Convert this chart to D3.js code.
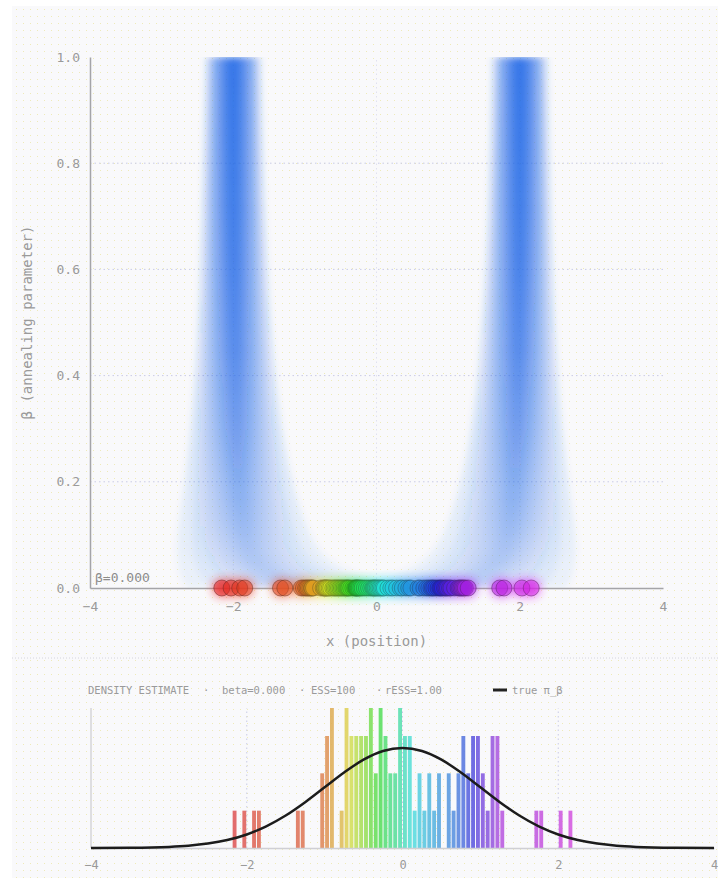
<!DOCTYPE html>
<meta charset="utf-8">
<style>
  body { margin: 0; background: #fff; }
  svg text { font-family: "DejaVu Sans Mono", monospace; fill: #9a9a9a; }
  .axis .domain { stroke: #a4a4a8; stroke-width: 1.5; }
  .axis text { font-size: 13px; fill: #9a9a9a; }
  .hist-axis .domain { stroke: #cfcfd4; stroke-width: 1.5; }
  .hist-axis text { font-size: 12px; }
  .grid line { stroke: #c9cbe6; stroke-width: 1; stroke-dasharray: 1.5,3; }
</style>
<body></body>
<script src="https://cdn.jsdelivr.net/npm/d3@7"></script>
<script>
// particle positions at beta = 0
var particles = [
  -2.16, -2.03, -1.91, -1.84, -1.34, -1.28,
  -1.05, -1.02, -0.99, -0.97, -0.95, -0.93, -0.91, -0.90, -0.88,
  -0.78, -0.745, -0.73, -0.72, -0.705, -0.695,
  -0.68, -0.66, -0.64, -0.61, -0.59, -0.57, -0.55, -0.53, -0.51,
  -0.49, -0.47, -0.45, -0.43, -0.415, -0.40, -0.385, -0.36, -0.33,
  -0.305, -0.29, -0.28, -0.27, -0.255, -0.24, -0.22, -0.20, -0.17, -0.14,
  -0.11, -0.08, -0.055, -0.04, -0.025, -0.01,
  0.01, 0.03, 0.05, 0.07, 0.09, 0.11, 0.16, 0.20, 0.23, 0.28, 0.33, 0.36,
  0.41, 0.45, 0.48, 0.58, 0.61, 0.66, 0.70, 0.73, 0.76, 0.78, 0.80,
  0.83, 0.86, 0.885, 0.90, 0.92, 0.95, 0.97, 0.99, 1.02, 1.04, 1.09,
  1.14, 1.16, 1.18, 1.20, 1.22, 1.24, 1.28,
  1.72, 1.78, 2.03, 2.16
];

// annealing path density bands (mirrored at +/- center)
var betaRows   = [0, 0.015, 0.03, 0.05, 0.08, 0.12, 0.2, 0.3, 0.45, 0.7, 1.0];
var bandCenter = [0.9, 1.35, 1.55, 1.72, 1.82, 1.88, 1.93, 1.96, 1.98, 2.0, 2.0];
var bandSpread = [0.75, 0.6, 0.52, 0.46, 0.42, 0.38, 0.32, 0.27, 0.22, 0.18, 0.16];
var bandInk    = [0.22, 0.2, 0.2, 0.22, 0.25, 0.3, 0.38, 0.5, 0.66, 0.85, 1.0];

// true pi_beta curve, in histogram count units
var truthX = [-4, -3.5, -3, -2.75, -2.5, -2.25, -2, -1.75, -1.5, -1.25, -1, -0.75, -0.5, -0.25, 0,
              0.25, 0.5, 0.75, 1, 1.25, 1.5, 1.75, 2, 2.25, 2.5, 2.75, 3, 3.5, 4];
var truthY = [0.001, 0.006, 0.030, 0.061, 0.118, 0.213, 0.363, 0.580, 0.870, 1.227, 1.626, 2.023, 2.366, 2.599, 2.68,
              2.599, 2.366, 2.023, 1.626, 1.227, 0.870, 0.580, 0.363, 0.213, 0.118, 0.061, 0.030, 0.006, 0.001];

var xTicks = [-4, -2, 0, 2, 4];
var yTicks = [0, 0.2, 0.4, 0.6, 0.8, 1.0];
var headerParts = ["DENSITY ESTIMATE", "·", "beta=0.000", "·", "ESS=100", "·", "rESS=1.00"];
var headerX = [88, 203, 222, 299, 311, 376, 385];

var width = 728, height = 883;

var svg = d3.select("body").append("svg")
    .attr("width", width)
    .attr("height", height);

var defs = svg.append("defs");

// faint dither-like dot texture
var pat = defs.append("pattern").attr("id", "dots")
    .attr("width", 7).attr("height", 7).attr("patternUnits", "userSpaceOnUse");
pat.append("rect").attr("x", 2).attr("y", 2).attr("width", 1).attr("height", 1).attr("fill", "#eeeab8");

defs.append("filter").attr("id", "soft")
    .attr("x", "-20%").attr("y", "-20%").attr("width", "140%").attr("height", "140%")
  .append("feGaussianBlur").attr("stdDeviation", 3.5);
defs.append("filter").attr("id", "glow")
    .attr("x", "-50%").attr("y", "-50%").attr("width", "200%").attr("height", "200%")
  .append("feGaussianBlur").attr("stdDeviation", 5);

svg.append("rect").attr("x", 12).attr("y", 6).attr("width", 706).attr("height", 872).attr("fill", "#f9f9fb");
svg.append("rect").attr("x", 12).attr("y", 6).attr("width", 706).attr("height", 872).attr("fill", "url(#dots)");

// ---------- upper panel: particles along the annealing path ----------
var xTop = d3.scaleLinear().domain([-4, 4]).range([90, 663]);
var yTop = d3.scaleLinear().domain([0, 1]).range([588, 57]);

defs.append("clipPath").attr("id", "plotClip")
  .append("rect").attr("x", xTop(-4)).attr("y", yTop(1))
    .attr("width", xTop(4) - xTop(-4)).attr("height", yTop(0) - yTop(1));

var grad = defs.append("linearGradient").attr("id", "inkGrad")
    .attr("gradientUnits", "userSpaceOnUse")
    .attr("x1", 0).attr("y1", yTop(0)).attr("x2", 0).attr("y2", yTop(1));
betaRows.forEach(function(b, i) {
  grad.append("stop").attr("offset", b).attr("stop-color", "#1b63e6").attr("stop-opacity", bandInk[i]);
});

var upper = svg.append("g");

// grid
var gridTop = upper.append("g").attr("class", "grid");
gridTop.selectAll(".h").data(yTicks.slice(1, 5)).enter().append("line")
    .attr("x1", xTop(-4)).attr("x2", xTop(4))
    .attr("y1", function(d) { return yTop(d); }).attr("y2", function(d) { return yTop(d); });
gridTop.selectAll(".v").data([-2, 0, 2]).enter().append("line")
    .attr("y1", yTop(0)).attr("y2", yTop(1))
    .attr("opacity", 0.5)
    .attr("x1", function(d) { return xTop(d); }).attr("x2", function(d) { return xTop(d); });

// density field
var rows = betaRows.map(function(b, i) { return {beta: b, c: bandCenter[i], s: bandSpread[i]}; });
var layers = [2.3, 1.8, 1.35, 0.95, 0.6, 0.3];
var field = upper.append("g").attr("clip-path", "url(#plotClip)")
  .append("g").attr("filter", "url(#soft)");
[-1, 1].forEach(function(side) {
  layers.forEach(function(k) {
    var area = d3.area().curve(d3.curveBasis)
        .y(function(d) { return yTop(d.beta); })
        .x0(function(d) { return xTop(side * d.c - k * d.s); })
        .x1(function(d) { return xTop(side * d.c + k * d.s); });
    field.append("path").datum(rows)
        .attr("d", area)
        .attr("fill", "url(#inkGrad)")
        .attr("fill-opacity", 0.29);
  });
});

// axes
upper.append("g").attr("class", "axis")
    .attr("transform", "translate(0," + yTop(0) + ")")
    .call(d3.axisBottom(xTop).tickValues(xTicks).tickSize(0).tickSizeOuter(0).tickPadding(14).tickFormat(d3.format("d")));
upper.append("g").attr("class", "axis")
    .attr("transform", "translate(" + xTop(-4) + ",0)")
    .call(d3.axisLeft(yTop).tickValues(yTicks).tickSize(0).tickSizeOuter(0).tickPadding(10).tickFormat(d3.format(".1f")));

upper.append("text").attr("x", (xTop(-4) + xTop(4)) / 2).attr("y", 646)
    .attr("text-anchor", "middle").style("font-size", "14px").text("x (position)");
upper.append("text").attr("transform", "translate(32," + yTop(0.5) + ") rotate(-90)")
    .attr("text-anchor", "middle").style("font-size", "14px").text("β (annealing parameter)");
upper.append("text").attr("x", 95).attr("y", 582).style("font-size", "13px").style("fill", "#8c8c8c").text("β=0.000");

// particles
var sorted = particles.slice().sort(d3.ascending);
function hueOf(v) { return 295 * sorted.indexOf(v) / (sorted.length - 1); }

upper.append("g").attr("filter", "url(#glow)").attr("opacity", 0.7)
  .selectAll("circle").data(sorted).enter().append("circle")
    .attr("cx", function(d) { return xTop(d); })
    .attr("cy", yTop(0))
    .attr("r", 9)
    .attr("fill", function(d) { return d3.hsl(hueOf(d), 0.9, 0.55); });

upper.append("g").selectAll("circle").data(sorted).enter().append("circle")
    .attr("cx", function(d) { return xTop(d); })
    .attr("cy", yTop(0))
    .attr("r", 8)
    .attr("fill", function(d) { return d3.hsl(hueOf(d), 0.75, 0.5); })
    .attr("fill-opacity", 0.5)
    .attr("stroke", function(d) { return d3.hsl(hueOf(d), 0.5, 0.28); })
    .attr("stroke-opacity", 0.5)
    .attr("stroke-width", 1);

// separator
svg.append("line").attr("x1", 12).attr("x2", 718).attr("y1", 658).attr("y2", 658)
    .attr("stroke", "#d4d4dc").attr("stroke-dasharray", "1,2");

// ---------- lower panel: density estimate ----------
var xBot = d3.scaleLinear().domain([-4, 4]).range([91, 714]);
var yBot = d3.scaleLinear().domain([0, 3.75]).range([848, 708]).clamp(true);

var lower = svg.append("g");

lower.selectAll(".hdr").data(headerParts).enter().append("text")
    .attr("x", function(d, i) { return headerX[i]; })
    .attr("y", 694)
    .style("font-size", "10.5px")
    .text(function(d) { return d; });
lower.append("line").attr("x1", 493).attr("x2", 507).attr("y1", 690).attr("y2", 690)
    .attr("stroke", "#222").attr("stroke-width", 3);
lower.append("text").attr("x", 512).attr("y", 694).style("font-size", "10.5px").text("true π_β");

var gridBot = lower.append("g").attr("class", "grid");
gridBot.selectAll("line").data([-2, 0, 2]).enter().append("line")
    .attr("y1", yBot(0)).attr("y2", yBot(3.75))
    .attr("x1", function(d) { return xBot(d); }).attr("x2", function(d) { return xBot(d); });

lower.append("line").attr("x1", xBot(-4)).attr("x2", xBot(-4)).attr("y1", yBot(0)).attr("y2", yBot(3.75))
    .attr("stroke", "#d4d4d8").attr("stroke-width", 1.5);

var bins = d3.bin().domain([-4, 4]).thresholds(d3.range(-3.9375, 4, 0.0625))(particles)
    .filter(function(b) { return b.length > 0; });

lower.append("g").selectAll("rect").data(bins).enter().append("rect")
    .attr("x", function(d) { return xBot(d.x0) + 0.5; })
    .attr("width", function(d) { return xBot(d.x1) - xBot(d.x0) - 1; })
    .attr("y", function(d) { return yBot(d.length); })
    .attr("height", function(d) { return yBot(0) - yBot(d.length); })
    .attr("fill", function(d) { return d3.hsl(hueOf(d[Math.floor(d.length / 2)]), 0.68, 0.6); })
    .attr("fill-opacity", 0.85);

lower.append("g").attr("class", "axis hist-axis")
    .attr("transform", "translate(0," + yBot(0) + ")")
    .call(d3.axisBottom(xBot).tickValues(xTicks).tickSize(0).tickSizeOuter(0).tickPadding(12).tickFormat(d3.format("d")));

var truth = truthX.map(function(x, i) { return [x, truthY[i]]; });
lower.append("path").datum(truth)
    .attr("fill", "none")
    .attr("stroke", "#1c1c1c")
    .attr("stroke-width", 2.5)
    .attr("d", d3.line()
        .x(function(d) { return xBot(d[0]); })
        .y(function(d) { return yBot(d[1]); })
        .curve(d3.curveMonotoneX));
</script>
